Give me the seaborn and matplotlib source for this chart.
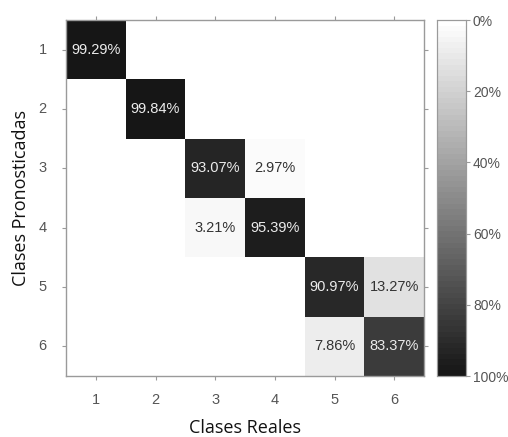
import matplotlib
matplotlib.use("Agg")
import matplotlib.pyplot as plt
from matplotlib.colors import LinearSegmentedColormap
import numpy as np
import pandas as pd
import seaborn as sns

# ── Data ──────────────────────────────────────────────────────────────────────
CLASSES = ["1", "2", "3", "4", "5", "6"]

# rows = predicted class, columns = real class (percent of each real class)
ROW_1 = [99.29, 0.0, 0.0, 0.0, 0.0, 0.0]
ROW_2 = [0.0, 99.84, 0.0, 0.0, 0.0, 0.0]
ROW_3 = [0.0, 0.0, 93.07, 2.97, 0.0, 1.2]
ROW_4 = [0.0, 0.0, 3.21, 95.39, 0.0, 0.0]
ROW_5 = [0.0, 0.0, 0.0, 0.0, 90.97, 13.27]
ROW_6 = [0.0, 0.0, 0.0, 0.0, 7.86, 83.37]

# cells that carry a printed label (row, col)
LABELLED = [(0, 0), (1, 1), (2, 2), (2, 3), (3, 2), (3, 3),
            (4, 4), (4, 5), (5, 4), (5, 5)]

CBAR_TICKS = [0, 20, 40, 60, 80, 100]

# ── Style ─────────────────────────────────────────────────────────────────────
GRAY_TXT = "#555555"
FRAME = "#9a9a9a"
CMAP = LinearSegmentedColormap.from_list("mgray", ["#ffffff", "#161616"], N=64)

sns.set_theme(style="white")
plt.rcParams["font.family"] = ["Liberation Sans", "DejaVu Sans"]

df = pd.DataFrame([ROW_1, ROW_2, ROW_3, ROW_4, ROW_5, ROW_6],
                  index=CLASSES, columns=CLASSES)

labels = np.full(df.shape, "", dtype=object)
for r, c in LABELLED:
    labels[r, c] = f"{df.iloc[r, c]:.2f}%"

fig = plt.figure(figsize=(5.08, 4.37), dpi=100)
W, H = 508, 437
ax = fig.add_axes([66 / W, 1 - 376 / H, (424 - 66) / W, (376 - 20) / H])
cax = fig.add_axes([437 / W, 1 - 376 / H, (466 - 437) / W, (376 - 20) / H])

sns.heatmap(
    df, ax=ax, cbar_ax=cax, cmap=CMAP, vmin=0, vmax=100,
    annot=labels, fmt="", annot_kws={"fontsize": 10.5},
    linewidths=0, square=False,
)

# annotation colours: light on dark cells, dark on light cells
for t in ax.texts:
    x, y = t.get_position()
    v = df.iloc[int(y), int(x)]
    t.set_color("#ececec" if v > 50 else "#333333")

# frame + ticks on all sides (MATLAB look)
for side in ["top", "bottom", "left", "right"]:
    ax.spines[side].set_visible(True)
    ax.spines[side].set_color(FRAME)
    ax.spines[side].set_linewidth(1.0)
ax.tick_params(axis="both", which="both", direction="out", length=3,
               width=0.8, color=FRAME, labelcolor=GRAY_TXT, labelsize=10.5,
               top=True, right=True, bottom=True, left=True,
               labeltop=False, labelright=False)
ax.tick_params(axis="x", pad=9)
ax.tick_params(axis="y", pad=11)
ax.set_yticklabels(CLASSES, rotation=0)
ax.set_xticklabels(CLASSES, rotation=0)

ax.set_xlabel("Clases Reales", fontsize=13, family=["Open Sans", "DejaVu Sans"],
              color="#111111", labelpad=9)
ax.set_ylabel("Clases Pronosticadas", fontsize=13, family=["Open Sans", "DejaVu Sans"],
              color="#111111", labelpad=6)

# colorbar
cax.invert_yaxis()
cax.set_yticks(CBAR_TICKS)
cax.set_yticklabels([f"{v}%" for v in CBAR_TICKS])
cax.tick_params(axis="y", direction="out", length=3, width=0.8, color=FRAME,
                labelcolor=GRAY_TXT, labelsize=10, pad=2)
for sp in cax.spines.values():
    sp.set_visible(True)
    sp.set_color(FRAME)
    sp.set_linewidth(0.8)

fig.savefig("out.png", dpi=100)
plt.close(fig)
